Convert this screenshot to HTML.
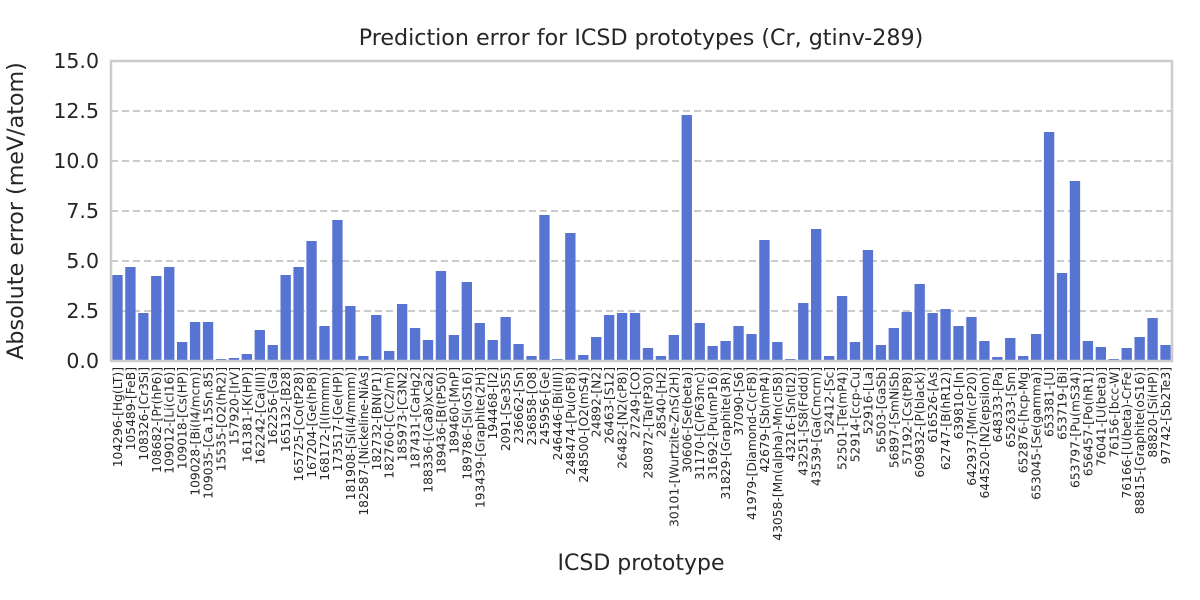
<!DOCTYPE html>
<html><head><meta charset="utf-8"><style>
body{margin:0;background:#fff}
svg{display:block;font-family:"DejaVu Sans","Liberation Sans",sans-serif}
</style></head><body>
<svg id="chart" width="1200" height="600" xmlns="http://www.w3.org/2000/svg">
<rect width="1200" height="600" fill="#fff"/>
<text x="641" y="45" text-anchor="middle" font-size="22.2" fill="#262626">Prediction error for ICSD prototypes (Cr, gtinv-289)</text>
<text transform="translate(23,211) rotate(-90)" text-anchor="middle" font-size="22.2" fill="#262626">Absolute error (meV/atom)</text>
<text x="641" y="570" text-anchor="middle" font-size="22" fill="#262626">ICSD prototype</text>
<g id="grid"></g><g id="bars"></g><g id="yticks"></g><g id="xticks"></g>
<rect x="111" y="61" width="1061" height="300" fill="none" stroke="#cccccc" stroke-width="2.5"/>
</svg>
<script>
const categories=["104296-[Hg(LT)]","105489-[FeB]","108326-[Cr3Si]","108682-[Pr(hP6)]","109012-[Li(cI16)]","109018-[Cs(HP)]","109028-[Bi(I4/mcm)]","109035-[Ca.15Sn.85]","15535-[O2(hR2)]","157920-[IrV]","161381-[K(HP)]","162242-[Ca(III)]","162256-[Ga]","165132-[B28]","165725-[Co(tP28)]","167204-[Ge(hP8)]","168172-[I(Immm)]","173517-[Ge(HP)]","181908-[Si(I4/mmm)]","182587-[Nickeline-NiAs]","182732-[BN(P1)]","182760-[C(C2/m)]","185973-[C3N2]","187431-[CaHg2]","188336-[(Ca8)xCa2]","189436-[B(tP50)]","189460-[MnP]","189786-[Si(oS16)]","193439-[Graphite(2H)]","194468-[I2]","2091-[Se3S5]","236662-[Sn]","236858-[O8]","245956-[Ge]","246446-[Bi(III)]","248474-[Pu(oF8)]","248500-[O2(mS4)]","24892-[N2]","26463-[S12]","26482-[N2(cP8)]","27249-[CO]","280872-[Ta(tP30)]","28540-[H2]","30101-[Wurtzite-ZnS(2H)]","30606-[Se(beta)]","31170-[C(P63mc)]","31692-[Pu(mP16)]","31829-[Graphite(3R)]","37090-[S6]","41979-[Diamond-C(cF8)]","42679-[Sb(mP4)]","43058-[Mn(alpha)-Mn(cI58)]","43216-[Sn(tI2)]","43251-[S8(Fddd)]","43539-[Ga(Cmcm)]","52412-[Sc]","52501-[Te(mP4)]","52914-[ccp-Cu]","52916-[La]","56503-[GaSb]","56897-[SmNiSb]","57192-[Cs(tP8)]","609832-[P(black)]","616526-[As]","62747-[B(hR12)]","639810-[In]","642937-[Mn(cP20)]","644520-[N2(epsilon)]","648333-[Pa]","652633-[Sm]","652876-[hcp-Mg]","653045-[Se(gamma)]","653381-[U]","653719-[Bi]","653797-[Pu(mS34)]","656457-[Po(hR1)]","76041-[U(beta)]","76156-[bcc-W]","76166-[U(beta)-CrFe]","88815-[Graphite(oS16)]","88820-[Si(HP)]","97742-[Sb2Te3]"];
const values=[4.3,4.7,2.4,4.25,4.7,0.95,1.95,1.95,0.1,0.15,0.35,1.55,0.8,4.3,4.7,6.0,1.75,7.05,2.75,0.25,2.3,0.5,2.85,1.65,1.05,4.5,1.3,3.95,1.9,1.05,2.2,0.85,0.25,7.3,0.1,6.4,0.3,1.2,2.3,2.4,2.4,0.65,0.25,1.3,12.3,1.9,0.75,1.0,1.75,1.35,6.05,0.95,0.1,2.9,6.6,0.25,3.25,0.95,5.55,0.8,1.65,2.45,3.85,2.4,2.6,1.75,2.2,1.0,0.2,1.15,0.25,1.35,11.45,4.4,9.0,1.0,0.7,0.1,0.65,1.2,2.15,0.8];
const yTicks=[0,2.5,5,7.5,10,12.5,15];
const yTickLabels=["0.0","2.5","5.0","7.5","10.0","12.5","15.0"];
const NS="http://www.w3.org/2000/svg";
const X0=111,X1=1172,Y0=361,Y1=61,YMAX=15;
const step=(X1-X0)/categories.length;
function xScale(i){return X0+(i+0.5)*step;}
function yScale(v){return Y0-(v/YMAX)*(Y0-Y1);}
function mk(tag,attrs,parent){const e=document.createElementNS(NS,tag);for(const k in attrs)e.setAttribute(k,attrs[k]);parent.appendChild(e);return e;}
const grid=document.getElementById('grid'),bars=document.getElementById('bars'),yt=document.getElementById('yticks'),xt=document.getElementById('xticks');
yTicks.forEach((t,i)=>{
  const y=yScale(t);
  if(t>0&&t<YMAX){const l=mk('line',{x1:X0,x2:X1,y1:y,y2:y,stroke:'#cccccc','stroke-width':2,'stroke-dasharray':'7,4'},grid);
  
  }
  const tx=mk('text',{x:99,y:y+7,'text-anchor':'end','font-size':20.5,fill:'#262626'},yt);
  tx.textContent=yTickLabels[i];
  
  
});
const bw=step*0.8;
values.forEach((v,i)=>{
  const r=mk('rect',{x:xScale(i)-bw/2,y:yScale(v),width:bw,height:Y0-yScale(v),fill:'#5874d2'},bars);
  
  
});
categories.forEach((c,i)=>{
  const x=xScale(i)+4.5;
  const t=mk('text',{transform:`translate(${x},367) rotate(-90)`,'text-anchor':'end','font-size':12.3,fill:'#262626'},xt);
  t.textContent=c;
  
  
});
</script>
</body></html>
